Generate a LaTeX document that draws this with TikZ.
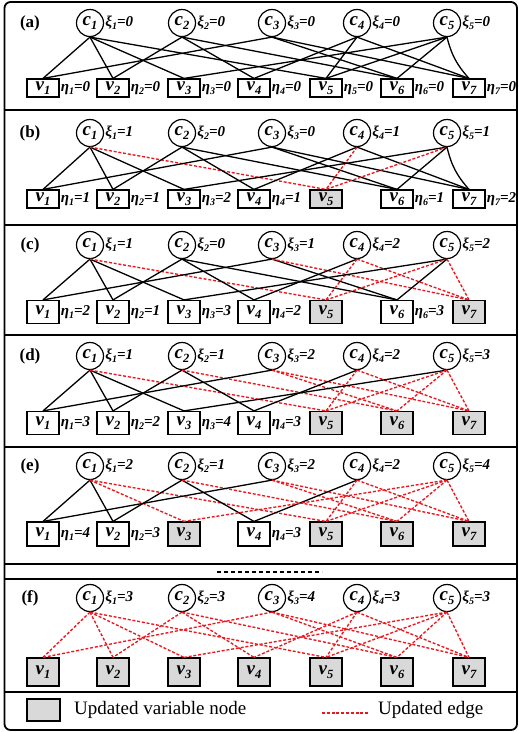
\documentclass[tikz,border=0pt]{standalone}
\usepackage{fontspec}
\setmainfont{Liberation Serif}
\usetikzlibrary{calc}

\definecolor{updfill}{gray}{0.85}
\definecolor{updred}{RGB}{240,20,28}

% symbol with index, used inside check and variable nodes
\newcommand\nodetext[2]{{\fontsize{19}{19}\selectfont\bfseries\itshape #1\raisebox{-3.5pt}{\fontsize{12.5}{12.5}\selectfont #2}}}
% value labels such as xi_1=0 and eta_1=0
\newcommand\valtext[3]{{\fontsize{15}{15}\selectfont\bfseries\itshape #1\raisebox{-3pt}{\fontsize{10}{10}\selectfont #2}=#3}}

\tikzset{
  check/.style={draw, circle, line width=1.2pt, minimum size=27pt, inner sep=0pt},
  varbox/.style={draw, rectangle, line width=1.2pt, minimum width=32pt, inner sep=0pt},
  vallabel/.style={anchor=west, inner sep=1pt},
  tagtext/.style={font=\fontsize{17}{17}\selectfont\bfseries, inner sep=0pt},
  plainedge/.style={line width=1.3pt, black},
  updedge/.style={line width=1.35pt, updred, dash pattern=on 3pt off 1.8pt},
  frameline/.style={line width=1.8pt},
  legendtext/.style={font=\fontsize{19}{19}\selectfont, anchor=west, inner sep=0pt}
}

% one stage of the decoding schedule:
% #1 key, #2 y of check row, #3 y of variable row, #4 box height,
% #5 tag, #6 xi values, #7 eta values (u marks an updated variable node)
\newcommand\tannerpanel[7]{%
  \node[tagtext] (#1tag) at (30,#2) {(#5)};
  \foreach \val [count=\i] in {#6} {
    \pgfmathsetmacro\px{{90,182,272,357,447}[\i-1]}
    \node[check] (#1c\i) at (\px,#2) {\nodetext{c}{\i}};
    \node[vallabel] (#1xi\i) at (#1c\i.east) {\valtext{ξ}{\i}{\val}};
  }
  \foreach \val [count=\j] in {#7} {
    \pgfmathsetmacro\px{{43,113,184,254,326,397,469}[\j-1]}
    \if u\val
      \node[varbox, minimum height=#4, fill=updfill] (#1v\j) at (\px,#3) {\nodetext{v}{\j}};
      \expandafter\xdef\csname upd#1\j\endcsname{1}
    \else
      \node[varbox, minimum height=#4] (#1v\j) at (\px,#3) {\nodetext{v}{\j}};
      \node[vallabel] (#1eta\j) at (#1v\j.east) {\valtext{η}{\j}{\val}};
      \expandafter\xdef\csname upd#1\j\endcsname{0}
    \fi
  }
  \foreach \ci/\vj in {1/1,1/2,1/3,1/5,2/2,2/4,2/6,3/1,3/6,3/7,4/4,4/5,4/7,5/3,5/5,5/6,5/7} {
    \ifnum\csname upd#1\vj\endcsname=1
      \draw[updedge] (#1c\ci.south) -- (#1v\vj.north);
    \else
      \ifnum\ci\vj=57
        \draw[plainedge] (#1c\ci.south) to[bend right=14] (#1v\vj.north);
      \else
        \draw[plainedge] (#1c\ci.south) -- (#1v\vj.north);
      \fi
    \fi
  }
}

\begin{document}
\begin{tikzpicture}[x=1pt, y=-1pt]
  \useasboundingbox (0,0) rectangle (519,732);

  % outer frame and panel separators
  \draw[frameline, rounded corners=6pt] (4.5,2) rectangle (517,730);
  \foreach \yy in {110,225,335,447,564,579,692}
    \draw[frameline] (4.5,\yy) -- (517,\yy);

  \tannerpanel{a}{23}{88}{18pt}{a}{0,0,0,0,0}{0,0,0,0,0,0,0}
  \tannerpanel{b}{133}{199}{18pt}{b}{1,0,0,1,1}{1,1,2,1,u,1,2}
  \tannerpanel{c}{245}{312}{23pt}{c}{1,0,1,2,2}{2,1,3,2,u,3,u}
  \tannerpanel{d}{356}{423}{23pt}{d}{1,1,2,2,3}{3,2,4,3,u,u,u}
  \tannerpanel{e}{466}{534}{24pt}{e}{2,1,2,2,4}{4,3,u,3,u,u,u}
  \tannerpanel{f}{598}{672}{28pt}{f}{3,3,4,3,3}{u,u,u,u,u,u,u}

  % ellipsis between the last two stages
  \coordinate (dotsL) at (217,572);
  \coordinate (dotsR) at (322,572);
  \draw[line width=1.5pt, dash pattern=on 4pt off 3pt] (dotsL) -- (dotsR);

  % legend
  \node[varbox, fill=updfill, minimum width=33pt, minimum height=22pt] (legbox) at (43.5,710) {};
  \node[legendtext] (legnode) at (74,710) {Updated variable node};
  \coordinate (legA) at (322,713);
  \coordinate (legB) at (368,713);
  \draw[updedge] (legA) -- (legB);
  \node[legendtext] (legedge) at (378,710) {Updated edge};
\end{tikzpicture}
\end{document}
